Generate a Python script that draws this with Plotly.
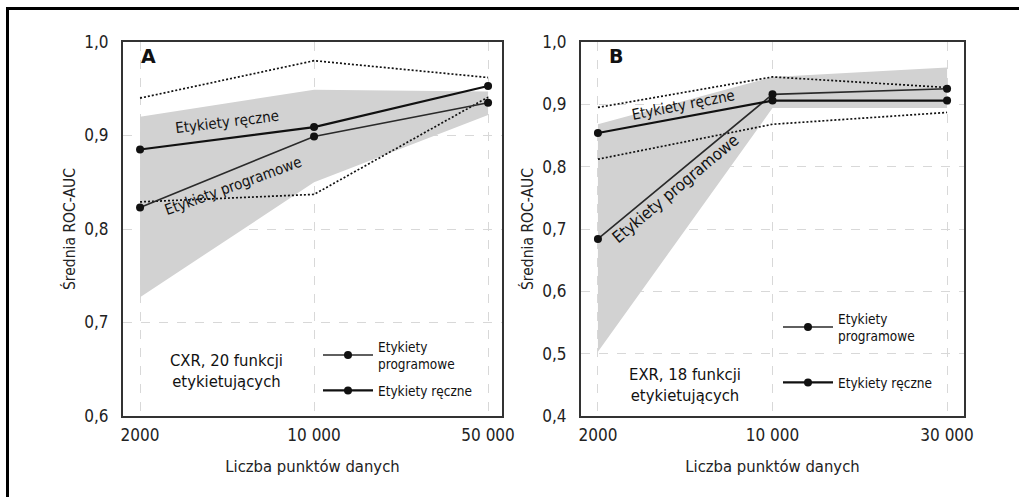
import plotly.graph_objects as go
from plotly.subplots import make_subplots

FONT = "DejaVu Sans Condensed, Liberation Sans Narrow, Arial Narrow, sans-serif"

# ---- data ----
cats_a = ["2000", "10 000", "50 000"]
prog_a = [0.823, 0.899, 0.935]
prog_a_lo = [0.727, 0.850, 0.922]
prog_a_hi = [0.920, 0.949, 0.947]
reczne_a = [0.885, 0.909, 0.953]
reczne_a_lo = [0.829, 0.837, 0.941]
reczne_a_hi = [0.940, 0.980, 0.962]

cats_b = ["2000", "10 000", "30 000"]
prog_b = [0.684, 0.916, 0.925]
prog_b_lo = [0.503, 0.894, 0.894]
prog_b_hi = [0.868, 0.944, 0.959]
reczne_b = [0.854, 0.906, 0.906]
reczne_b_lo = [0.812, 0.868, 0.887]
reczne_b_hi = [0.895, 0.944, 0.927]

yticks_a = [0.6, 0.7, 0.8, 0.9, 1.0]
yticks_b = [0.4, 0.5, 0.6, 0.7, 0.8, 0.9, 1.0]
ytick_text_a = ["0,6", "0,7", "0,8", "0,9", "1,0"]
ytick_text_b = ["0,4", "0,5", "0,6", "0,7", "0,8", "0,9", "1,0"]

name_prog = "Etykiety<br>programowe"
name_reczne = "Etykiety ręczne"

fig = make_subplots(rows=1, cols=2)

def add_panel(col, cats, prog, plo, phi, rec, rlo, rhi, legend):
    # shaded band (programowe)
    fig.add_trace(go.Scatter(x=cats, y=plo, mode="lines", line=dict(width=0),
                             showlegend=False, hoverinfo="skip"), row=1, col=col)
    fig.add_trace(go.Scatter(x=cats, y=phi, mode="lines", line=dict(width=0),
                             fill="tonexty", fillcolor="#d2d2d2",
                             showlegend=False, hoverinfo="skip"), row=1, col=col)
    # dotted bounds (ręczne)
    for arr in (rlo, rhi):
        fig.add_trace(go.Scatter(x=cats, y=arr, mode="lines",
                                 line=dict(color="#111", width=1.7, dash="2px,2px"),
                                 showlegend=False, hoverinfo="skip"), row=1, col=col)
    fig.add_trace(go.Scatter(x=cats, y=prog, mode="lines+markers", name=name_prog,
                             line=dict(color="#2a2a2a", width=1.6),
                             marker=dict(color="#111", size=8),
                             legend=legend, legendgroup="p"), row=1, col=col)
    fig.add_trace(go.Scatter(x=cats, y=rec, mode="lines+markers", name=name_reczne,
                             line=dict(color="#111", width=2.2),
                             marker=dict(color="#111", size=8),
                             legend=legend, legendgroup="r"), row=1, col=col)

add_panel(1, cats_a, prog_a, prog_a_lo, prog_a_hi, reczne_a, reczne_a_lo, reczne_a_hi, "legend")
add_panel(2, cats_b, prog_b, prog_b_lo, prog_b_hi, reczne_b, reczne_b_lo, reczne_b_hi, "legend2")

W, H = 1019, 497
def px(x):
    return x / W
def py(y):
    return 1 - y / H

axis_common = dict(
    showline=True, linecolor="#333", linewidth=2, mirror=True, automargin=False,
    showgrid=True, gridcolor="#d8d8d8", griddash="dash", gridwidth=1,
    zeroline=False, ticks="", tickfont=dict(family=FONT, size=17, color="#222"),
)

fig.update_xaxes(**axis_common, type="category", ticklabelstandoff=3,
                 title=dict(text="Liczba punktów danych", standoff=16,
                            font=dict(family=FONT, size=16.5, color="#222")))
fig.update_yaxes(**axis_common, ticklabelstandoff=9,
                 title=dict(text="Średnia ROC-AUC", standoff=5,
                            font=dict(family=FONT, size=15.5, color="#222")))

fig.update_xaxes(domain=[px(123), px(502)], range=[-0.098, 2.08], row=1, col=1)
fig.update_xaxes(domain=[px(581), px(964)], range=[-0.097, 2.097], row=1, col=2)
fig.update_yaxes(domain=[py(416), py(42)], range=[0.6, 1.0], tickvals=yticks_a,
                 ticktext=ytick_text_a, row=1, col=1)
fig.update_yaxes(domain=[py(416), py(42)], range=[0.4, 1.0], tickvals=yticks_b,
                 ticktext=ytick_text_b, row=1, col=2)

ann = []
def label(text, x, y, xref, yref, angle, size=15, family=FONT):
    ann.append(dict(text=text, x=x, y=y, xref=xref, yref=yref, showarrow=False,
                    textangle=angle, font=dict(family=family, size=size, color="#111"),
                    xanchor="center", yanchor="middle"))

label("Etykiety ręczne", 0.5, 0.914, "x", "y", -7)
label("Etykiety programowe", 0.535, 0.846, "x", "y", -20)
label("Etykiety ręczne", 0.49, 0.899, "x2", "y2", -11)
label("Etykiety programowe", 0.447, 0.765, "x2", "y2", -40, size=16.5)
label("<b>A</b>", px(148), py(56), "paper", "paper", 0, size=19,
      family="DejaVu Sans, Arial, sans-serif")
label("<b>B</b>", px(616), py(56), "paper", "paper", 0, size=19,
      family="DejaVu Sans, Arial, sans-serif")
label("CXR, 20 funkcji<br>etykietujących", px(226), py(371), "paper", "paper", 0, size=16.5)
label("EXR, 18 funkcji<br>etykietujących", px(685), py(385), "paper", "paper", 0, size=16.5)

legend_common = dict(font=dict(family=FONT, size=13.5, color="#111"), bgcolor="rgba(0,0,0,0)",
                     traceorder="grouped", itemwidth=50, xanchor="left", yanchor="top")

fig.update_layout(
    template="none",
    width=W, height=H, plot_bgcolor="white", paper_bgcolor="white",
    margin=dict(l=0, r=0, t=0, b=0, autoexpand=False),
    font=dict(family=FONT),
    annotations=ann,
    legend=dict(**legend_common, x=px(318), y=py(331), tracegroupgap=6),
    legend2=dict(**legend_common, x=px(778), y=py(303), tracegroupgap=26),
    shapes=[
        dict(type="line", xref="paper", yref="paper", x0=px(6), x1=1, y0=py(8.5), y1=py(8.5),
             line=dict(color="black", width=3)),
        dict(type="line", xref="paper", yref="paper", x0=px(7.5), x1=px(7.5), y0=0, y1=py(7),
             line=dict(color="black", width=3)),
    ],
)

fig.write_html("out.html", config={"displayModeBar": False},
               post_script="document.body.style.margin='0px';")
